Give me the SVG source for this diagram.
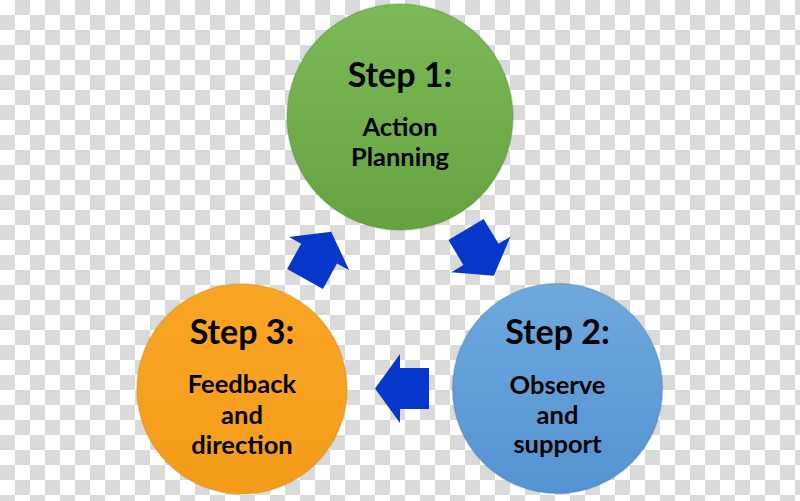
<svg xmlns="http://www.w3.org/2000/svg" width="800" height="501" viewBox="0 0 800 501">
  <defs>
    <pattern id="checker" x="0" y="0" width="30" height="30" patternUnits="userSpaceOnUse">
      <rect x="0" y="0" width="30" height="30" fill="#ffffff"/>
      <rect x="15" y="0" width="15" height="15" fill="#dadada"/>
      <rect x="0" y="15" width="15" height="15" fill="#dadada"/>
    </pattern>
    <linearGradient id="gGreen" x1="0" y1="0" x2="0" y2="1">
      <stop offset="0" stop-color="#7cba57"/>
      <stop offset="1" stop-color="#64a33f"/>
    </linearGradient>
    <linearGradient id="gOrange" x1="0" y1="0" x2="0" y2="1">
      <stop offset="0" stop-color="#f9a624"/>
      <stop offset="1" stop-color="#f49c1a"/>
    </linearGradient>
    <linearGradient id="gBlue" x1="0" y1="0" x2="0" y2="1">
      <stop offset="0" stop-color="#6ea9dd"/>
      <stop offset="1" stop-color="#5493d2"/>
    </linearGradient>
    <path id="arrow" d="M0,-20.5 L29,-20.5 L29,-34.5 L54,0 L29,34.5 L29,20.5 L0,20.5 Z"/>
  </defs>
  <style>
    .disc { stroke-width: 1.5; stroke-opacity: 0.35; }
    .title { font-family: Lato, "Liberation Sans", sans-serif; font-weight: 700; font-size: 34px; fill: #000000; text-anchor: middle; }
    .body { font-family: Lato, "Liberation Sans", sans-serif; font-weight: 700; font-size: 25.5px; fill: #000000; text-anchor: middle; }
    .arr { fill: #0736cb; }
  </style>

  <rect x="0" y="0" width="800" height="501" fill="url(#checker)"/>

  <g id="step1">
    <circle class="disc" cx="400" cy="117" r="113" fill="url(#gGreen)" stroke="#4f8a2e"/>
    <text class="title" x="400" y="87">Step 1:</text>
    <text class="body" x="400" y="136">Action</text>
    <text class="body" x="400" y="166">Planning</text>
  </g>

  <g id="step2">
    <circle class="disc" cx="557.5" cy="388.5" r="105" fill="url(#gBlue)" stroke="#3f78b0"/>
    <text class="title" x="557.5" y="344">Step 2:</text>
    <text class="body" x="557.5" y="394">Observe</text>
    <text class="body" x="557.5" y="424">and</text>
    <text class="body" x="557.5" y="453">support</text>
  </g>

  <g id="step3">
    <circle class="disc" cx="242" cy="389" r="105" fill="url(#gOrange)" stroke="#c97d10"/>
    <text class="title" x="242" y="344">Step 3:</text>
    <text class="body" x="242" y="393">Feedback</text>
    <text class="body" x="242" y="424">and</text>
    <text class="body" x="242" y="454">direction</text>
  </g>

  <g id="connectors">
    <use href="#arrow" class="arr" transform="translate(466,229.5) rotate(59)"/>
    <use href="#arrow" class="arr" transform="translate(429,388.5) rotate(180)"/>
    <use href="#arrow" class="arr" transform="translate(305,279) rotate(-61)"/>
  </g>
</svg>
